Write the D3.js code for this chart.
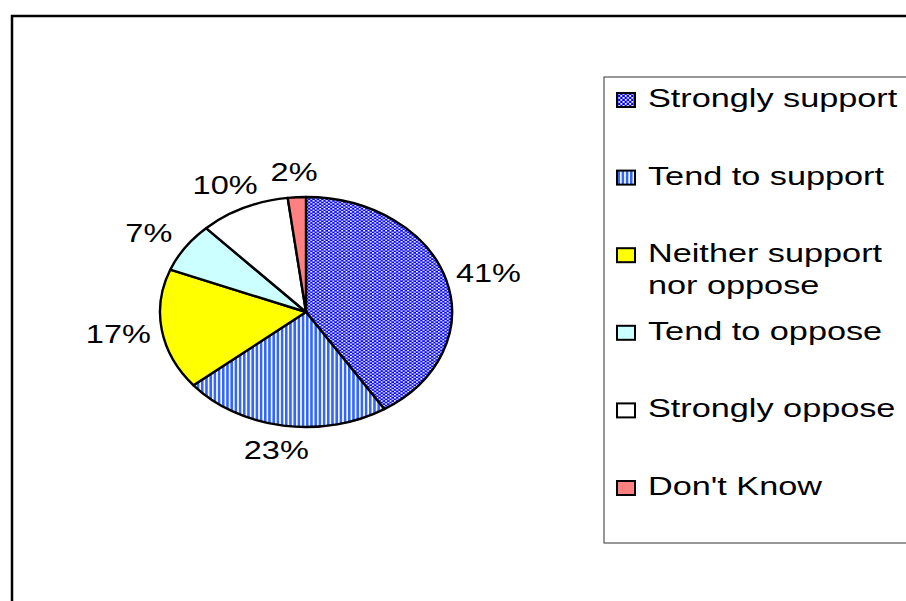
<!DOCTYPE html>
<html>
<head>
<meta charset="utf-8">
<script src="https://cdn.jsdelivr.net/npm/d3@7"></script>
<style>
  body { margin: 0; background: #fff; }
  text { font-family: "Liberation Sans", Arial, sans-serif; fill: #000; }
</style>
</head>
<body>
<div id="chart"></div>
<script>
const categories = ["Strongly support", "Tend to support", "Neither support nor oppose",
                    "Tend to oppose", "Strongly oppose", "Don't Know"];
const legendLines = [["Strongly support"], ["Tend to support"], ["Neither support", "nor oppose"],
                     ["Tend to oppose"], ["Strongly oppose"], ["Don't Know"]];
const values = [41, 23, 17, 7, 10, 2];
const fills = ["url(#checker)", "url(#stripes)", "#ffff00", "#ccffff", "#ffffff", "#ff8080"];

const W = 906, H = 601;
const cx = 306, cy = 312;
const rx = 146, ry = 115;     // pie is drawn squashed
const labelR = 190, labelRy = 140;
const textStretch = 1.3;      // source text looks horizontally stretched
const legendStretch = 1.37;

const svg = d3.select("#chart").append("svg")
  .attr("width", W).attr("height", H);

const defs = svg.append("defs");
const chk = defs.append("pattern").attr("id", "checker")
  .attr("patternUnits", "userSpaceOnUse").attr("width", 4.4).attr("height", 4);
chk.append("rect").attr("width", 4.4).attr("height", 4).attr("fill", "#0000ff");
chk.append("rect").attr("x", 0).attr("y", 0).attr("width", 1.9).attr("height", 1.8).attr("fill", "#fff");
chk.append("rect").attr("x", 2.2).attr("y", 2).attr("width", 1.9).attr("height", 1.8).attr("fill", "#fff");

const str = defs.append("pattern").attr("id", "stripes")
  .attr("patternUnits", "userSpaceOnUse").attr("width", 4.2).attr("height", 4);
str.append("rect").attr("width", 4.2).attr("height", 4).attr("fill", "#fff");
str.append("rect").attr("width", 2.6).attr("height", 4).attr("fill", "#3366ff");

// outer frame (runs off the right and bottom)
svg.append("rect")
  .attr("x", 12).attr("y", 16).attr("width", W + 20).attr("height", H + 20)
  .attr("fill", "none").attr("stroke", "#000").attr("stroke-width", 2.5);

const pie = d3.pie().sort(null).value(d => d)(values);
const arc = d3.arc().innerRadius(0).outerRadius(rx);
const labelArc = d3.arc().innerRadius(labelR).outerRadius(labelR);

const g = svg.append("g")
  .attr("transform", `translate(${cx},${cy}) scale(1,${ry / rx})`);

g.selectAll("path.slice")
  .data(pie)
  .join("path")
    .attr("class", "slice")
    .attr("d", arc)
    .attr("fill", (d, i) => fills[i])
    .attr("stroke", "#000")
    .attr("stroke-width", 2.4)
    .attr("stroke-linejoin", "round")
    .attr("vector-effect", "non-scaling-stroke");

// percentage labels
svg.selectAll("text.pct")
  .data(pie)
  .join("text")
    .attr("class", "pct")
    .attr("transform", d => {
      const [x, y] = labelArc.centroid(d);
      return `translate(${cx + x},${cy + y * labelRy / labelR}) scale(${textStretch},1)`;
    })
    .attr("text-anchor", "middle")
    .attr("dy", "0.36em")
    .style("font-size", "25px")
    .text(d => d.data + "%");

// legend
const legX = 604, legY = 77, legH = 466;
const rowY = d3.scalePoint().domain(d3.range(categories.length)).range([107, 495]);

svg.append("rect")
  .attr("x", legX).attr("y", legY).attr("width", W).attr("height", legH)
  .attr("fill", "#fff").attr("stroke", "#333").attr("stroke-width", 1);

const items = svg.selectAll("g.leg")
  .data(categories)
  .join("g")
    .attr("class", "leg")
    .attr("transform", (d, i) => `translate(0,${rowY(i)})`);

items.append("rect")
  .attr("x", 617).attr("y", -14).attr("width", 18).attr("height", 14)
  .attr("fill", (d, i) => fills[i])
  .attr("stroke", "#000").attr("stroke-width", 2);

items.each(function(d, i) {
  legendLines[i].forEach((line, j) => {
    d3.select(this).append("text")
      .attr("transform", `translate(648,${j * 32}) scale(${legendStretch},1)`)
      .style("font-size", "25px")
      .text(line);
  });
});
</script>
</body>
</html>
